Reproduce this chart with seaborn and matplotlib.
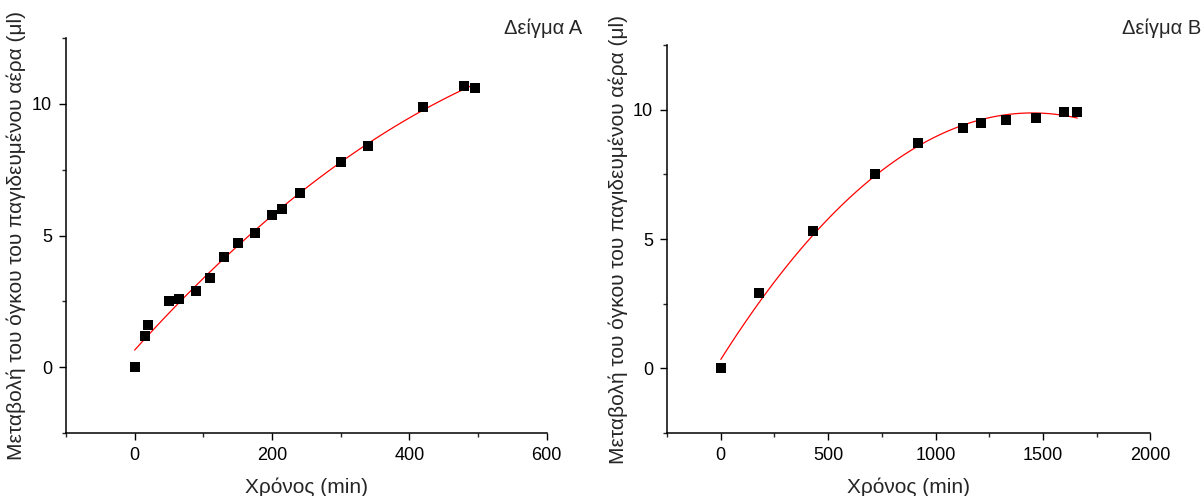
import numpy as np
import pandas as pd
import seaborn as sns
from matplotlib import pyplot as plt
from matplotlib.ticker import MultipleLocator

# Sample A
time_a = [0, 15, 20, 50, 65, 90, 110, 130, 150, 175, 200, 215, 240, 300, 340, 420, 480, 495]
vol_a = [0.0, 1.2, 1.6, 2.5, 2.6, 2.9, 3.4, 4.2, 4.7, 5.1, 5.8, 6.0, 6.6, 7.8, 8.4, 9.9, 10.7, 10.6]

# Sample B
time_b = [0, 180, 430, 720, 920, 1130, 1210, 1330, 1470, 1600, 1660]
vol_b = [0.0, 2.9, 5.3, 7.5, 8.7, 9.3, 9.5, 9.6, 9.7, 9.9, 9.9]

df_a = pd.DataFrame({"t": time_a, "v": vol_a})
df_b = pd.DataFrame({"t": time_b, "v": vol_b})

sns.set_style("ticks")
plt.rcParams["font.family"] = ["Liberation Sans", "DejaVu Sans"]

fig = plt.figure(figsize=(12.02, 4.96), dpi=100)
ax1 = fig.add_axes([0.0549, 0.127, 0.400, 0.796])
ax2 = fig.add_axes([0.555, 0.127, 0.402, 0.782])

ylabel = "Μεταβολή του όγκου του παγιδευμένου αέρα (μl)"

for ax, df, xlim, xmaj, title, tx in [
    (ax1, df_a, (-100, 600), 200, "Δείγμα Α", 0.484),
    (ax2, df_b, (-250, 2000), 500, "Δείγμα Β", 0.999),
]:
    sns.regplot(data=df, x="t", y="v", order=2, ci=None, truncate=True, ax=ax,
                marker="s", color="black",
                scatter_kws=dict(s=48, color="black", alpha=1, zorder=3, linewidths=0),
                line_kws=dict(color="red", lw=0.9, zorder=2))
    ax.set_xlim(*xlim)
    ax.set_ylim(-2.5, 12.5)
    ax.xaxis.set_major_locator(MultipleLocator(xmaj))
    ax.xaxis.set_minor_locator(MultipleLocator(xmaj / 2))
    ax.yaxis.set_major_locator(MultipleLocator(5))
    ax.yaxis.set_minor_locator(MultipleLocator(2.5))
    ax.tick_params(which="major", direction="out", length=5, width=1, labelsize=13,
                   colors="black", pad=5)
    ax.tick_params(which="minor", direction="out", length=3, width=1)
    for s in ["left", "bottom"]:
        ax.spines[s].set_linewidth(1.1)
        ax.spines[s].set_color("black")
    sns.despine(ax=ax)
    ax.set_xlabel("Χρόνος (min)", fontsize=15, labelpad=10)
    ax.set_ylabel(ylabel, fontsize=15, labelpad=4)
    fig.text(tx, 0.944, title, ha="right", va="center", fontsize=14.5)

plt.savefig("out.png", dpi=100)
plt.close()
